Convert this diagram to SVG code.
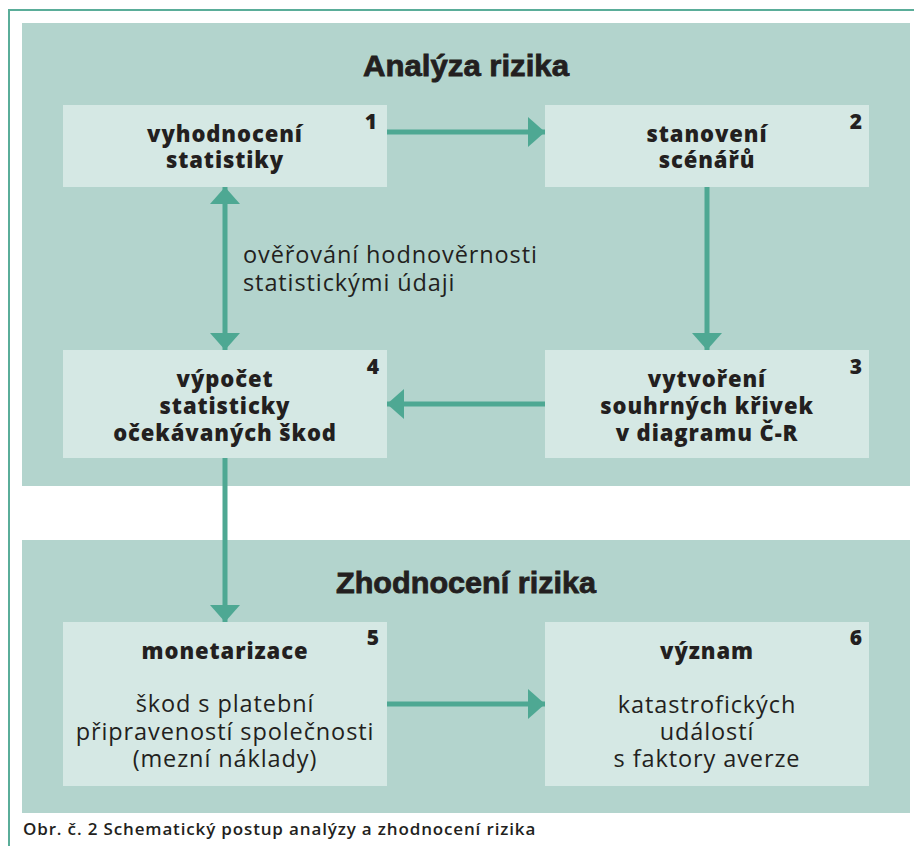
<svg xmlns="http://www.w3.org/2000/svg" width="914" height="846" viewBox="0 0 914 846">
  <style>
    .frame { stroke: #5aad99; stroke-width: 2; fill: none; }
    .panel { fill: #b3d4cd; }
    .box { fill: #d5e8e4; }
    .title { font-family: "Liberation Sans Narrow", "Liberation Sans", sans-serif; font-weight: bold; font-size: 30px; fill: #231f20; stroke: #231f20; stroke-width: 0.8; text-anchor: middle; }
    .head { font-family: "Open Sans", "Liberation Sans", sans-serif; font-weight: 800; font-size: 22px; letter-spacing: 0.9px; fill: #231f20; text-anchor: middle; }
    .num { font-family: "Open Sans", "Liberation Sans", sans-serif; font-weight: 800; font-size: 21px; fill: #231f20; text-anchor: end; }
    .body { font-family: "Open Sans", "Liberation Sans", sans-serif; font-size: 23.5px; letter-spacing: 0.9px; fill: #231f20; text-anchor: middle; }
    .label { font-family: "Open Sans", "Liberation Sans", sans-serif; font-size: 23.5px; letter-spacing: 0.9px; fill: #231f20; }
    .caption { font-family: "Open Sans", "Liberation Sans", sans-serif; font-weight: 600; font-size: 17px; letter-spacing: 0.85px; fill: #231f20; }
    .link { stroke: #4ea893; stroke-width: 5; fill: none; }
    .tip { fill: #4ea893; }
  </style>
  <defs>
    <marker id="arrow" viewBox="0 0 17 30" refX="17" refY="15" markerWidth="17" markerHeight="30" markerUnits="userSpaceOnUse" orient="auto-start-reverse">
      <path class="tip" d="M0,0 L17,15 L0,30 Z"/>
    </marker>
  </defs>

  <rect width="914" height="846" fill="#ffffff"/>

  <!-- outer frame: top and left rule -->
  <path class="frame" d="M9,846 V10 H914"/>

  <!-- section panels -->
  <g id="panel-analysis">
    <rect class="panel" x="22" y="23" width="888" height="463"/>
    <text class="title" x="466" y="76" textLength="206" lengthAdjust="spacingAndGlyphs">Analýza rizika</text>
  </g>
  <g id="panel-evaluation">
    <rect class="panel" x="22" y="540" width="888" height="273"/>
    <text class="title" x="466" y="593" textLength="260" lengthAdjust="spacingAndGlyphs">Zhodnocení rizika</text>
  </g>

  <!-- connectors -->
  <g id="connectors">
    <path class="link" d="M387,132 H545" marker-end="url(#arrow)"/>
    <path class="link" d="M707,187 V350" marker-end="url(#arrow)"/>
    <path class="link" d="M545,404 H387" marker-end="url(#arrow)"/>
    <path class="link" d="M225,187 V350" marker-start="url(#arrow)" marker-end="url(#arrow)"/>
    <path class="link" d="M225,458 V622" marker-end="url(#arrow)"/>
    <path class="link" d="M387,704 H545" marker-end="url(#arrow)"/>
    <text class="label" x="243" y="263">ověřování hodnověrnosti</text>
    <text class="label" x="243" y="291">statistickými údaji</text>
  </g>

  <!-- nodes -->
  <g id="node-1">
    <rect class="box" x="63" y="105" width="324" height="82"/>
    <text class="num" x="377" y="129">1</text>
    <text class="head" x="225" y="142">vyhodnocení</text>
    <text class="head" x="225" y="168">statistiky</text>
  </g>
  <g id="node-2">
    <rect class="box" x="545" y="105" width="324" height="82"/>
    <text class="num" x="862" y="129">2</text>
    <text class="head" x="707" y="142">stanovení</text>
    <text class="head" x="707" y="168">scénářů</text>
  </g>
  <g id="node-3">
    <rect class="box" x="545" y="350" width="324" height="108"/>
    <text class="num" x="862" y="374">3</text>
    <text class="head" x="707" y="387">vytvoření</text>
    <text class="head" x="707" y="414">souhrných křivek</text>
    <text class="head" x="707" y="441">v diagramu Č-R</text>
  </g>
  <g id="node-4">
    <rect class="box" x="63" y="350" width="324" height="108"/>
    <text class="num" x="379" y="374">4</text>
    <text class="head" x="225" y="387">výpočet</text>
    <text class="head" x="225" y="414">statisticky</text>
    <text class="head" x="225" y="441">očekávaných škod</text>
  </g>
  <g id="node-5">
    <rect class="box" x="63" y="622" width="324" height="164"/>
    <text class="num" x="379" y="645">5</text>
    <text class="head" x="225" y="659">monetarizace</text>
    <text class="body" x="225" y="712">škod s platební</text>
    <text class="body" x="225" y="740">připraveností společnosti</text>
    <text class="body" x="225" y="767">(mezní náklady)</text>
  </g>
  <g id="node-6">
    <rect class="box" x="545" y="622" width="324" height="164"/>
    <text class="num" x="862" y="645">6</text>
    <text class="head" x="707" y="659">význam</text>
    <text class="body" x="707" y="713">katastrofických</text>
    <text class="body" x="707" y="740">událostí</text>
    <text class="body" x="707" y="767">s faktory averze</text>
  </g>

  <!-- caption -->
  <text class="caption" x="23" y="835">Obr. č. 2 Schematický postup analýzy a zhodnocení rizika</text>
</svg>
